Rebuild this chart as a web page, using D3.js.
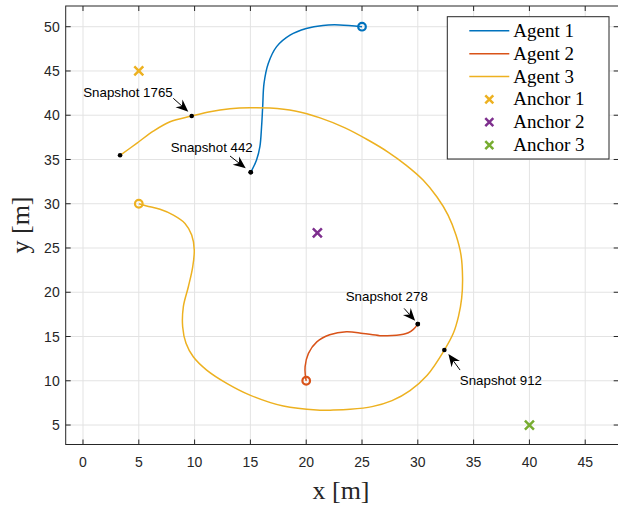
<!DOCTYPE html>
<html>
<head>
<meta charset="utf-8">
<script src="https://cdn.jsdelivr.net/npm/d3@7"></script>
<style>
	body { margin: 0; background: #fff; }
	svg { display: block; }
</style>
</head>
<body>
<svg id="svg"></svg>
<script>

// ########################################################################## //
// data (metres)

const agent1 = [
	[25.0, 50.0], [23.0, 50.2], [21.5, 50.15], [20.0, 49.8], [18.55, 49.05],
	[17.35, 47.75], [16.6, 45.85], [16.22, 43.6], [16.1, 40.95], [16.0, 38.7],
	[15.85, 36.45], [15.55, 34.95], [15.03, 33.55]
];

const agent2 = [
	[20.0, 10.0], [19.92, 10.65], [19.9, 11.6], [20.2, 13.1], [20.95, 14.4],
	[22.1, 15.2], [23.6, 15.55], [25.1, 15.35], [26.6, 15.1], [28.1, 15.13],
	[29.15, 15.42], [29.6, 15.8], [30.0, 16.4]
];

const agent3 = [
	[5.0, 30.0], [5.7, 29.75], [6.9, 29.37], [8.1, 28.72], [9.14, 27.78],
	[9.74, 26.46], [9.97, 24.77], [9.83, 22.88], [9.44, 20.62], [8.99, 18.36],
	[8.93, 16.1], [9.23, 14.23], [9.88, 12.71], [11.08, 11.21], [12.88, 9.71],
	[14.96, 8.38], [17.95, 7.14], [20.94, 6.69], [22.43, 6.69], [23.92, 6.77],
	[25.9, 7.08], [27.69, 7.76], [29.3, 8.89], [30.82, 10.59], [32.38, 13.47],
	[33.18, 15.36], [33.65, 17.31], [33.93, 19.34], [34.01, 21.6], [33.87, 24.2],
	[33.42, 26.46], [32.71, 28.72], [31.72, 30.76], [30.47, 32.68], [28.94, 34.37],
	[27.33, 35.84], [25.54, 37.2], [23.48, 38.57], [21.24, 39.7], [19.0, 40.47],
	[16.76, 40.81], [14.96, 40.85], [13.17, 40.73], [11.38, 40.4], [9.74, 39.91],
	[7.8, 39.27], [6.3, 38.21], [4.81, 36.82], [3.32, 35.47]
];

const agentNames = ["Agent 1", "Agent 2", "Agent 3"];
const anchorNames = ["Anchor 1", "Anchor 2", "Anchor 3"];
const anchorX = [5, 21, 40];
const anchorY = [45, 26.7, 5];

const snapshotLabels = ["Snapshot 1765", "Snapshot 442", "Snapshot 278", "Snapshot 912"];
const snapshotX = [9.74, 15.03, 30.0, 32.38];
const snapshotY = [39.91, 33.55, 16.4, 13.47];

const xTicks = [0, 5, 10, 15, 20, 25, 30, 35, 40, 45];
const yTicks = [5, 10, 15, 20, 25, 30, 35, 40, 45, 50];

// ########################################################################## //

let width = 618,
	height = 506,
	mLeft = 65.7, mRight = 618.7,
	mTop = 6, mBottom = 444.5,
	tickLen = 5,

	colors = ["#0072BD", "#D95319", "#EDB120"],
	anchorColors = ["#EDB120", "#7E2F8E", "#77AC30"],
	axisColor = "#262626",
	sans = "'Liberation Sans', Arial, Helvetica, sans-serif",
	serif = "'Liberation Serif', 'Times New Roman', serif",

	xScale, yScale, svg, plot;

// annotation layout, pixel offsets from the snapshot point
const annot = [
	{ tx: -19, ty: -19.5, anchor: "end",   tail: [-18.4, -17.7], tip: [-3.4, -4.3] },
	{ tx: 2,   ty: -20,   anchor: "end",   tail: [-20.7, -16.3], tip: [-5, -4] },
	{ tx: 10,  ty: -23.5, anchor: "end",   tail: [-13.7, -15.7], tip: [-2.7, -3.3] },
	{ tx: 15.5, ty: 34.5, anchor: "start", tail: [15.7, 20],     tip: [4, 4] }
];

// ########################################################################## //

function xMark(g, x, y, r, color) {
	g.append("path")
		.attr("d", `M${x - r},${y - r}L${x + r},${y + r}M${x - r},${y + r}L${x + r},${y - r}`)
		.attr("stroke", color)
		.attr("stroke-width", 2.5)
		.attr("fill", "none");
}

function arrow(g, x1, y1, x2, y2) {
	let a = Math.atan2(y2 - y1, x2 - x1),
		L = 12.5, W = 5.2, N = 8.5,
		c = Math.cos(a), s = Math.sin(a),
		p = (u, v) => [x2 + u * c - v * s, y2 + u * s + v * c];

	let notch = p(-N, 0);
	g.append("line")
		.attr("x1", x1).attr("y1", y1)
		.attr("x2", notch[0]).attr("y2", notch[1])
		.attr("stroke", "#000")
		.attr("stroke-width", 1);
	g.append("path")
		.attr("d", "M" + [p(0, 0), p(-L, W), notch, p(-L, -W)].join("L") + "Z")
		.attr("fill", "#000");
}

function draw() {

	svg = d3.select("svg#svg")
		.attr("width", width)
		.attr("height", height);

	xScale = d3.scaleLinear()
		.domain([-1.55, 48])
		.range([mLeft, mRight]);

	yScale = d3.scaleLinear()
		.domain([2.8, 52.34])
		.range([mBottom, mTop]);

	// grid
	svg.append("g").selectAll("line.gx")
		.data(xTicks)
		.enter()
		.append("line")
		.attr("x1", d => xScale(d)).attr("x2", d => xScale(d))
		.attr("y1", mTop).attr("y2", mBottom)
		.attr("stroke", "#e3e3e3");
	svg.append("g").selectAll("line.gy")
		.data(yTicks)
		.enter()
		.append("line")
		.attr("x1", mLeft).attr("x2", mRight)
		.attr("y1", d => yScale(d)).attr("y2", d => yScale(d))
		.attr("stroke", "#e3e3e3");

	// ticks on all four sides
	let ticks = svg.append("g")
		.attr("stroke", axisColor)
		.attr("stroke-width", 1);
	xTicks.forEach(d => {
		ticks.append("line").attr("x1", xScale(d)).attr("x2", xScale(d))
			.attr("y1", mBottom).attr("y2", mBottom - tickLen);
		ticks.append("line").attr("x1", xScale(d)).attr("x2", xScale(d))
			.attr("y1", mTop).attr("y2", mTop + tickLen);
	});
	yTicks.forEach(d => {
		ticks.append("line").attr("x1", mLeft).attr("x2", mLeft + tickLen)
			.attr("y1", yScale(d)).attr("y2", yScale(d));
		ticks.append("line").attr("x1", mRight).attr("x2", mRight - tickLen)
			.attr("y1", yScale(d)).attr("y2", yScale(d));
	});

	svg.append("rect")
		.attr("x", mLeft).attr("y", mTop)
		.attr("width", mRight - mLeft).attr("height", mBottom - mTop)
		.attr("fill", "none")
		.attr("stroke", axisColor)
		.attr("stroke-width", 1);

	// tick labels
	svg.append("g").selectAll("text")
		.data(xTicks)
		.enter()
		.append("text")
		.attr("x", d => xScale(d))
		.attr("y", 466.5)
		.attr("text-anchor", "middle")
		.attr("font-family", sans)
		.attr("font-size", 14)
		.attr("fill", axisColor)
		.text(d => d);
	svg.append("g").selectAll("text")
		.data(yTicks)
		.enter()
		.append("text")
		.attr("x", mLeft - 6)
		.attr("y", d => yScale(d))
		.attr("dy", "0.36em")
		.attr("text-anchor", "end")
		.attr("font-family", sans)
		.attr("font-size", 14)
		.attr("fill", axisColor)
		.text(d => d);

	// axis titles
	svg.append("text")
		.text("x [m]")
		.attr("x", 341)
		.attr("y", 499)
		.attr("text-anchor", "middle")
		.attr("font-family", serif)
		.attr("font-size", 26)
		.attr("fill", axisColor);
	svg.append("text")
		.text("y [m]")
		.attr("transform", "translate(29,225) rotate(-90)")
		.attr("text-anchor", "middle")
		.attr("font-family", serif)
		.attr("font-size", 26)
		.attr("fill", axisColor);

	// trajectories
	svg.append("clipPath").attr("id", "clip")
		.append("rect")
		.attr("x", mLeft).attr("y", mTop)
		.attr("width", mRight - mLeft).attr("height", mBottom - mTop);
	plot = svg.append("g").attr("clip-path", "url(#clip)");

	let line = d3.line()
		.x(d => xScale(d[0]))
		.y(d => yScale(d[1]))
		.curve(d3.curveCatmullRom.alpha(0.5));

	[agent1, agent2, agent3].forEach((a, i) => {
		plot.append("path")
			.attr("d", line(a))
			.attr("fill", "none")
			.attr("stroke", colors[i])
			.attr("stroke-width", 1.5);
		// start marker
		plot.append("circle")
			.attr("cx", xScale(a[0][0]))
			.attr("cy", yScale(a[0][1]))
			.attr("r", 3.8)
			.attr("fill", "none")
			.attr("stroke", colors[i])
			.attr("stroke-width", 2.2);
		// current position
		plot.append("circle")
			.attr("cx", xScale(a[a.length - 1][0]))
			.attr("cy", yScale(a[a.length - 1][1]))
			.attr("r", 2.3)
			.attr("fill", "#000");
	});

	// anchors
	anchorNames.forEach((n, i) => {
		xMark(plot, xScale(anchorX[i]), yScale(anchorY[i]), 4.5, anchorColors[i]);
	});

	// snapshots
	snapshotLabels.forEach((label, i) => {
		let px = xScale(snapshotX[i]), py = yScale(snapshotY[i]), o = annot[i];
		plot.append("circle")
			.attr("cx", px).attr("cy", py)
			.attr("r", 2.3)
			.attr("fill", "#000");
		arrow(svg, px + o.tail[0], py + o.tail[1], px + o.tip[0], py + o.tip[1]);
		svg.append("text")
			.text(label)
			.attr("x", px + o.tx)
			.attr("y", py + o.ty)
			.attr("text-anchor", o.anchor)
			.attr("font-family", sans)
			.attr("font-size", 13.3)
			.attr("fill", "#000");
	});

	// legend
	let lg = svg.append("g");
	lg.append("rect")
		.attr("x", 447.3).attr("y", 16.7)
		.attr("width", 161.7).attr("height", 142.3)
		.attr("fill", "#fff")
		.attr("stroke", axisColor)
		.attr("stroke-width", 1);

	let rows = agentNames.concat(anchorNames);
	rows.forEach((name, i) => {
		let cy = 30.8 + i * 22.85;
		if (i < 3) {
			lg.append("line")
				.attr("x1", 469.3).attr("x2", 509.3)
				.attr("y1", cy).attr("y2", cy)
				.attr("stroke", colors[i])
				.attr("stroke-width", 1.5);
		} else {
			xMark(lg, 489.3, cy, 4, anchorColors[i - 3]);
		}
		lg.append("text")
			.text(name)
			.attr("x", 513.3)
			.attr("y", cy + 6)
			.attr("font-family", serif)
			.attr("font-size", 19)
			.attr("fill", "#000");
	});
}

draw();

</script>
</body>
</html>
